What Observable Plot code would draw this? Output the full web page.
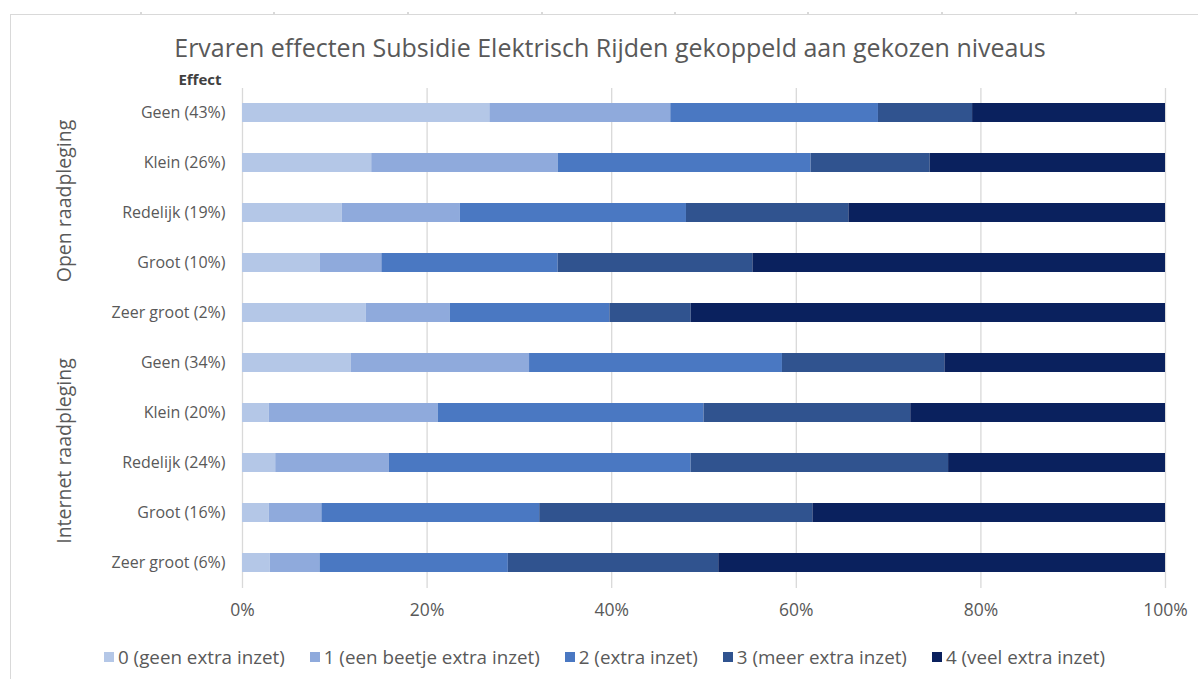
<!DOCTYPE html>
<html>
<head>
<meta charset="utf-8">
<script src="https://cdn.jsdelivr.net/npm/d3@7"></script>
<script src="https://cdn.jsdelivr.net/npm/@observablehq/plot@0.6"></script>
<style>
  html, body { margin: 0; padding: 0; background: #fff; }
  body { width: 1198px; height: 679px; position: relative; overflow: hidden; font-family: "Open Sans", sans-serif; color: #595959; }
  #frame { position: absolute; left: 10px; top: 14px; width: 1200px; height: 680px; border-left: 1.5px solid #d9d9d9; border-top: 1.5px solid #d9d9d9; box-sizing: border-box; }
  .colmark { position: absolute; top: 12px; width: 2px; height: 3px; background: #d9d9d9; }
  #title { position: absolute; left: 0; top: 29px; width: 1220px; text-align: center; font-size: 25px; line-height: 36px; color: #595959; white-space: nowrap; }
  #chart { position: absolute; left: 0; top: 70px; }
  #legend { position: absolute; left: 104px; top: 644px; display: flex; align-items: center; font-size: 18.8px; line-height: 26px; color: #595959; white-space: nowrap; }
  .item { display: flex; align-items: center; margin-right: 25px; }
  .sw { width: 10px; height: 10px; margin-right: 4px; }
</style>
</head>
<body>
<div id="frame"></div>
<div id="title">Ervaren effecten Subsidie Elektrisch Rijden gekoppeld aan gekozen niveaus</div>
<div id="chart"></div>
<div id="legend"></div>
<script>
// ---- data ----
const effects = ["Geen (43%)", "Klein (26%)", "Redelijk (19%)", "Groot (10%)", "Zeer groot (2%)",
                 "Geen (34%)", "Klein (20%)", "Redelijk (24%)", "Groot (16%)", "Zeer groot (6%)"];
const groups = ["Open raadpleging", "Internet raadpleging"];
const groupOf = ["Open raadpleging", "Open raadpleging", "Open raadpleging", "Open raadpleging", "Open raadpleging",
                 "Internet raadpleging", "Internet raadpleging", "Internet raadpleging", "Internet raadpleging", "Internet raadpleging"];
const series = ["0 (geen extra inzet)", "1 (een beetje extra inzet)", "2 (extra inzet)", "3 (meer extra inzet)", "4 (veel extra inzet)"];
const s0 = [26.8, 14.0, 10.8, 8.4, 13.4, 11.8, 2.9, 3.6, 2.9, 3.0];
const s1 = [19.6, 20.2, 12.8, 6.7, 9.1, 19.3, 18.3, 12.3, 5.7, 5.4];
const s2 = [22.5, 27.4, 24.5, 19.1, 17.3, 27.4, 28.8, 32.7, 23.6, 20.4];
const s3 = [10.2, 12.9, 17.6, 21.1, 8.8, 17.6, 22.4, 27.9, 29.6, 22.8];
const s4 = [20.9, 25.5, 34.3, 44.7, 51.4, 23.9, 27.6, 23.5, 38.2, 48.4];
const xTicks = [0, 20, 40, 60, 80, 100];
const colors = ["#b4c7e7", "#8faadc", "#4a78c2", "#30538f", "#0a215e"];
const colMarks = [141, 274, 408, 542, 675, 808, 942, 1076];

// ---- build table ----
const allSeries = [s0, s1, s2, s3, s4];
const rows = [];
effects.forEach((e, i) => {
  series.forEach((s, j) => rows.push({effect: e, group: groupOf[i], series: s, value: allSeries[j][i]}));
});
const groupLabels = groups.map(g => {
  const members = effects.filter((e, i) => groupOf[i] === g);
  return {group: g, row: members[Math.floor(members.length / 2)]};
});

// spreadsheet column marks above the frame
colMarks.forEach(x => {
  const d = document.createElement("div");
  d.className = "colmark";
  d.style.left = (x - 1) + "px";
  document.body.appendChild(d);
});

const plot = Plot.plot({
  width: 1198,
  height: 565,
  marginLeft: 242,
  marginRight: 33,
  marginTop: 18,
  marginBottom: 47,
  style: {fontFamily: "'Open Sans', sans-serif", fontSize: "16px", color: "#595959", background: "transparent"},
  x: {domain: [0, 100], label: null},
  y: {domain: effects, label: null, paddingInner: 0.62, paddingOuter: 0.31},
  color: {domain: series, range: colors},
  marks: [
    Plot.gridX(xTicks.filter(d => d > 0), {stroke: "#d9d9d9", strokeOpacity: 1, strokeWidth: 1.3}),
    Plot.ruleX([0], {stroke: "#d9d9d9", strokeWidth: 1.3}),
    Plot.barX(rows, Plot.stackX({x: "value", y: "effect", fill: "series", order: series, inset: 0})),
    Plot.axisX({ticks: xTicks, tickFormat: d => d + "%", tickSize: 0, tickPadding: 15, fontSize: 17.5, fill: "#595959", label: null}),
    Plot.axisY({tickSize: 0, tickPadding: 17, fontSize: 16, fill: "#595959", label: null}),
    Plot.text(["Effect"], {frameAnchor: "top-left", dx: -21, dy: -4, textAnchor: "end", lineAnchor: "bottom", fontWeight: "bold", fill: "#404040", fontSize: 15}),
    Plot.text(groupLabels, {x: () => 0, y: "row", text: "group", rotate: -90, dx: -178, dy: -12, fontSize: 19.5, fill: "#595959"})
  ]
});
document.getElementById("chart").appendChild(plot);

// ---- legend ----
const legend = document.getElementById("legend");
series.forEach((s, i) => {
  const it = document.createElement("div");
  it.className = "item";
  const sw = document.createElement("div");
  sw.className = "sw";
  sw.style.background = colors[i];
  const tx = document.createElement("span");
  tx.textContent = s;
  it.appendChild(sw); it.appendChild(tx);
  legend.appendChild(it);
});
</script>
</body>
</html>
